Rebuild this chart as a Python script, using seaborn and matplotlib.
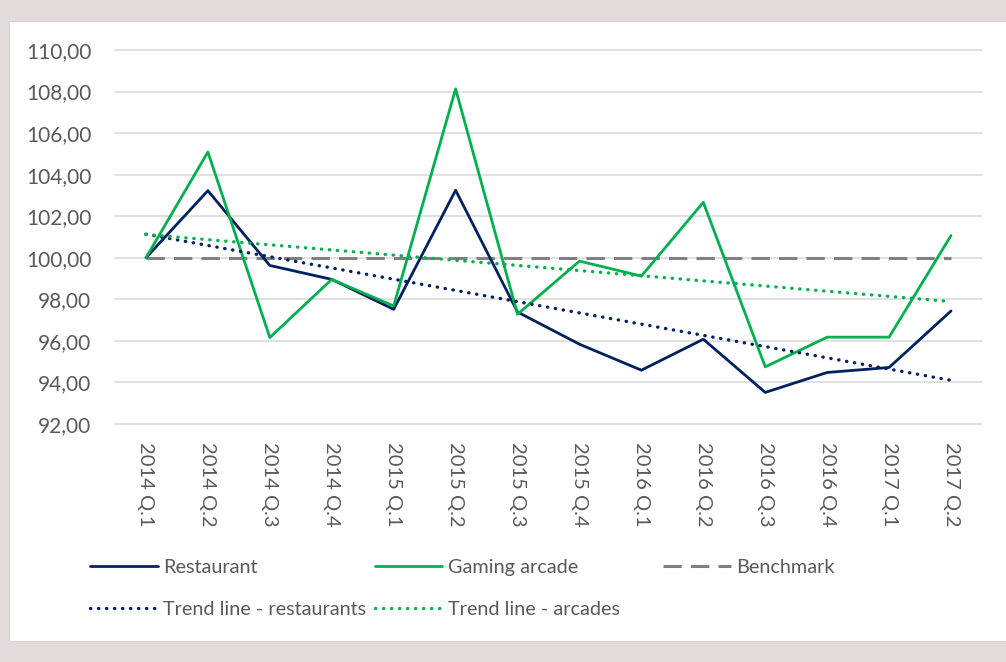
import numpy as np
import pandas as pd
import matplotlib
matplotlib.use("Agg")
import matplotlib.pyplot as plt
import seaborn as sns
from matplotlib.patches import Rectangle
from matplotlib.ticker import FuncFormatter, FixedLocator

# ---- data ----
quarters = ["2014 Q.1", "2014 Q.2", "2014 Q.3", "2014 Q.4",
            "2015 Q.1", "2015 Q.2", "2015 Q.3", "2015 Q.4",
            "2016 Q.1", "2016 Q.2", "2016 Q.3", "2016 Q.4",
            "2017 Q.1", "2017 Q.2"]
restaurant = [100.00, 103.23, 99.63, 98.96, 97.52, 103.25, 97.39,
              95.84, 94.59, 96.08, 93.52, 94.48, 94.72, 97.44]
arcade = [100.00, 105.09, 96.16, 98.96, 97.68, 108.13, 97.28,
          99.84, 99.12, 102.67, 94.75, 96.18, 96.18, 101.07]
benchmark = [100.0, 100.0, 100.0, 100.0, 100.0, 100.0, 100.0,
             100.0, 100.0, 100.0, 100.0, 100.0, 100.0, 100.0]
y_ticks = [92, 94, 96, 98, 100, 102, 104, 106, 108, 110]

NAVY = "#002060"
GREEN = "#00b050"
GRAY = "#808080"
TXT = "#595959"

sns.set_theme(style="white")
plt.rcParams["font.family"] = ["Lato", "DejaVu Sans"]

W, H = 1006, 662
fig = plt.figure(figsize=(W / 100, H / 100), dpi=100)
fig.patch.set_facecolor("#e2dbd9")
fig.add_artist(Rectangle((9 / W, 21 / H), 1, 620 / H, transform=fig.transFigure,
                         facecolor="white", edgecolor="#d8d2d1", lw=0.8, zorder=0))

ax = fig.add_axes([115 / W, (H - 424) / H, 867 / W, 374 / H])
ax.set_facecolor("white")

pos = np.arange(len(quarters))
df = pd.DataFrame({"pos": pos, "quarter": quarters, "Restaurant": restaurant,
                   "Gaming arcade": arcade, "Benchmark": benchmark})

sns.lineplot(data=df, x="pos", y="Benchmark", ax=ax, color=GRAY, lw=2.2,
             linestyle=(0, (6, 3)), label="Benchmark", zorder=2)
sns.lineplot(data=df, x="pos", y="Restaurant", ax=ax, color=NAVY, lw=2.0,
             label="Restaurant", zorder=3)
sns.lineplot(data=df, x="pos", y="Gaming arcade", ax=ax, color=GREEN, lw=2.0,
             label="Gaming arcade", zorder=3)
sns.regplot(data=df, x="pos", y="Restaurant", ax=ax, scatter=False, ci=None,
            color=NAVY, label="Trend line - restaurants",
            line_kws=dict(lw=2.4, linestyle=(0, (0.1, 2.3)),
                          dash_capstyle="round", zorder=4))
sns.regplot(data=df, x="pos", y="Gaming arcade", ax=ax, scatter=False, ci=None,
            color=GREEN, label="Trend line - arcades",
            line_kws=dict(lw=2.4, linestyle=(0, (0.1, 2.3)),
                          dash_capstyle="round", zorder=4))

ax.set_xlim(-0.5, len(quarters) - 0.5)
ax.set_ylim(92, 110)
ax.yaxis.set_major_locator(FixedLocator(y_ticks))
ax.yaxis.set_major_formatter(FuncFormatter(lambda v, p: f"{v:.2f}".replace(".", ",")))
ax.set_xticks(pos)
ax.set_xticklabels(quarters, rotation=270, fontsize=14.5, color=TXT)
ax.tick_params(axis="x", length=0, pad=13)
ax.tick_params(axis="y", length=0, pad=17, labelsize=15, labelcolor=TXT)
ax.set_xlabel("")
ax.set_ylabel("")
for s in ax.spines.values():
    s.set_visible(False)
ax.yaxis.grid(True, color="#d9d9d9", lw=1.1)
ax.xaxis.grid(False)
ax.set_axisbelow(True)
for gl in ax.get_ygridlines():
    gl.set_clip_on(False)

handles, labels = ax.get_legend_handles_labels()
hmap = dict(zip(labels, handles))
if ax.get_legend():
    ax.get_legend().remove()

order = ["Restaurant", "Trend line - restaurants", "Gaming arcade", "Trend line - arcades"]
leg_kw = dict(loc="upper left", frameon=False, fontsize=14.3, handlelength=3.4,
              handletextpad=0.3, columnspacing=0.4, labelspacing=1.25,
              borderpad=0, borderaxespad=0, labelcolor=TXT)
leg1 = fig.legend([hmap[k] for k in order], order, ncol=2,
                  bbox_to_anchor=(90 / W, 1 - 559 / H), **leg_kw)
leg2 = fig.legend([hmap["Benchmark"]], ["Benchmark"], ncol=1,
                  bbox_to_anchor=(663 / W, 1 - 559 / H), **leg_kw)

fig.savefig("out.png", dpi=100, facecolor=fig.get_facecolor())
